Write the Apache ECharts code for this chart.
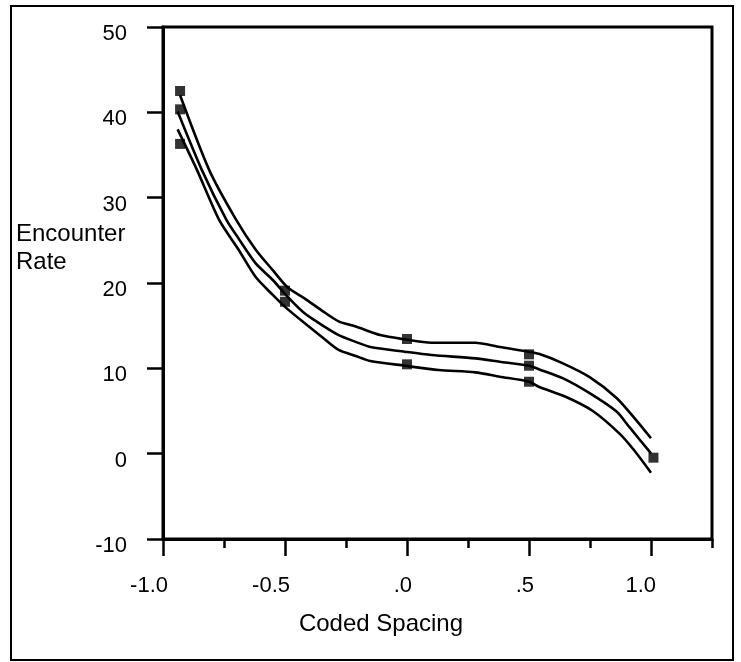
<!DOCTYPE html>
<html>
<head>
<meta charset="utf-8">
<script src="https://cdn.jsdelivr.net/npm/echarts@6/dist/echarts.min.js"></script>
<style>
html,body{margin:0;padding:0;background:#fff;}
#chart{width:741px;height:662px;}
</style>
</head>
<body>
<div id="chart"></div>
<script>
// Axis ticks / labels
const xTickValues = [-1, -0.5, 0, 0.5, 1];
const xTickLabels = ['-1.0', '-0.5', '.0', '.5', '1.0'];
const yTickValues = [-10, 0, 10, 20, 30, 40, 50];

// Observed points (squares)
const pointX = [-0.93, -0.93, -0.93, -0.5, -0.5, 0, 0, 0.5, 0.5, 0.5, 1.01];
const pointY = [42.5, 40.35, 36.3, 19.1, 17.8, 13.44, 10.47, 11.64, 10.31, 8.43, -0.47];

// Upper band curve
const upperX = [-0.93, -0.81, -0.70, -0.62, -0.55, -0.49, -0.42, -0.35, -0.28, -0.21, -0.11, -0.01, 0.10, 0.28, 0.38, 0.50, 0.54, 0.63, 0.75, 0.86, 0.94, 1.0];
const upperY = [42.0, 33.2, 27.4, 23.9, 21.5, 19.5, 18.2, 16.8, 15.5, 14.9, 13.9, 13.4, 13.0, 13.0, 12.5, 11.95, 11.7, 10.7, 8.95, 6.5, 3.9, 1.8];

// Fitted (middle) curve
const middleX = [-0.94, -0.84, -0.74, -0.69, -0.62, -0.55, -0.49, -0.42, -0.35, -0.28, -0.21, -0.15, -0.01, 0.10, 0.28, 0.38, 0.50, 0.54, 0.64, 0.75, 0.86, 0.91, 1.0];
const middleY = [40.1, 33.2, 27.4, 25.2, 22.3, 20.35, 18.4, 16.45, 15.1, 13.9, 13.1, 12.5, 11.95, 11.56, 11.17, 10.78, 10.31, 9.9, 8.83, 7.07, 4.92, 3.16, 0.04];

// Lower band curve
const lowerX = [-0.94, -0.86, -0.77, -0.69, -0.62, -0.55, -0.50, -0.42, -0.35, -0.28, -0.21, -0.15, -0.01, 0.13, 0.28, 0.38, 0.50, 0.54, 0.65, 0.76, 0.87, 0.93, 1.0];
const lowerY = [38.0, 33.2, 27.4, 23.9, 20.7, 18.6, 17.2, 15.3, 13.7, 12.15, 11.44, 10.86, 10.31, 9.8, 9.53, 9.02, 8.43, 7.85, 6.67, 5.03, 2.38, 0.43, -2.23];

function zipXY(xs, ys) { return xs.map((x, i) => [x, ys[i]]); }

const FONT = '"Liberation Sans", Arial, Helvetica, sans-serif';
const chart = echarts.init(document.getElementById('chart'), null, {renderer: 'canvas'});

const lineStyleCommon = {color: '#000', width: 2.6};
function curve(xs, ys) {
  return {
    type: 'line', data: zipXY(xs, ys), smooth: 0.25, showSymbol: false, symbol: 'none',
    lineStyle: lineStyleCommon, itemStyle: {color: '#000'}, animation: false, z: 3
  };
}

chart.setOption({
  animation: false,
  backgroundColor: '#fff',
  grid: {left: 163, right: 29, top: 27, bottom: 123, show: true, borderColor: '#000', borderWidth: 3, backgroundColor: 'transparent'},
  xAxis: [
    {
      type: 'value', min: -1, max: 1.25, interval: 0.25, position: 'bottom',
      axisLine: {show: true, onZero: false, lineStyle: {color: '#000', width: 3}},
      axisTick: {show: true, length: 9, lineStyle: {color: '#000', width: 2.5}},
      splitLine: {show: false},
      axisLabel: {
        show: true, customValues: xTickValues, margin: 36, align: 'right', padding: [0, -5, 0, 0],
        color: '#000', fontFamily: FONT, fontSize: 22,
        formatter: function (v) { const i = xTickValues.findIndex(t => Math.abs(t - v) < 1e-9); return i >= 0 ? xTickLabels[i] : ''; }
      }
    },
    {
      type: 'value', min: -1, max: 1.25, interval: 0.25, position: 'bottom',
      axisLine: {show: false, onZero: false},
      axisTick: {show: true, customValues: xTickValues, length: 17, lineStyle: {color: '#000', width: 2.5}},
      splitLine: {show: false},
      axisLabel: {show: false}
    }
  ],
  yAxis: {
    type: 'value', min: -10, max: 50, interval: 10,
    axisLine: {show: true, onZero: false, lineStyle: {color: '#000', width: 3}},
    axisTick: {show: true, length: 16, lineStyle: {color: '#000', width: 2.5}},
    splitLine: {show: false},
    axisLabel: {
      color: '#000', fontFamily: FONT, fontSize: 22, margin: 36, verticalAlign: 'top', lineHeight: 14,
      formatter: function (v) { return String(v); }
    }
  },
  graphic: [
    {type: 'rect', shape: {x: 11, y: 6, width: 722, height: 654}, style: {fill: 'none', stroke: '#000', lineWidth: 2}, silent: true},
    {type: 'text', x: 16, y: 234, style: {text: 'Encounter', font: '24px ' + FONT, fill: '#000', textAlign: 'left', textVerticalAlign: 'middle'}},
    {type: 'text', x: 16, y: 262, style: {text: 'Rate', font: '24px ' + FONT, fill: '#000', textAlign: 'left', textVerticalAlign: 'middle'}},
    {type: 'text', x: 381, y: 624, style: {text: 'Coded Spacing', font: '24px ' + FONT, fill: '#000', textAlign: 'center', textVerticalAlign: 'middle'}}
  ],
  series: [
    curve(upperX, upperY),
    curve(middleX, middleY),
    curve(lowerX, lowerY),
    {
      type: 'scatter', data: zipXY(pointX, pointY), symbol: 'rect', symbolSize: 10,
      itemStyle: {color: '#000'}, z: 4, animation: false
    }
  ]
});
</script>
</body>
</html>
